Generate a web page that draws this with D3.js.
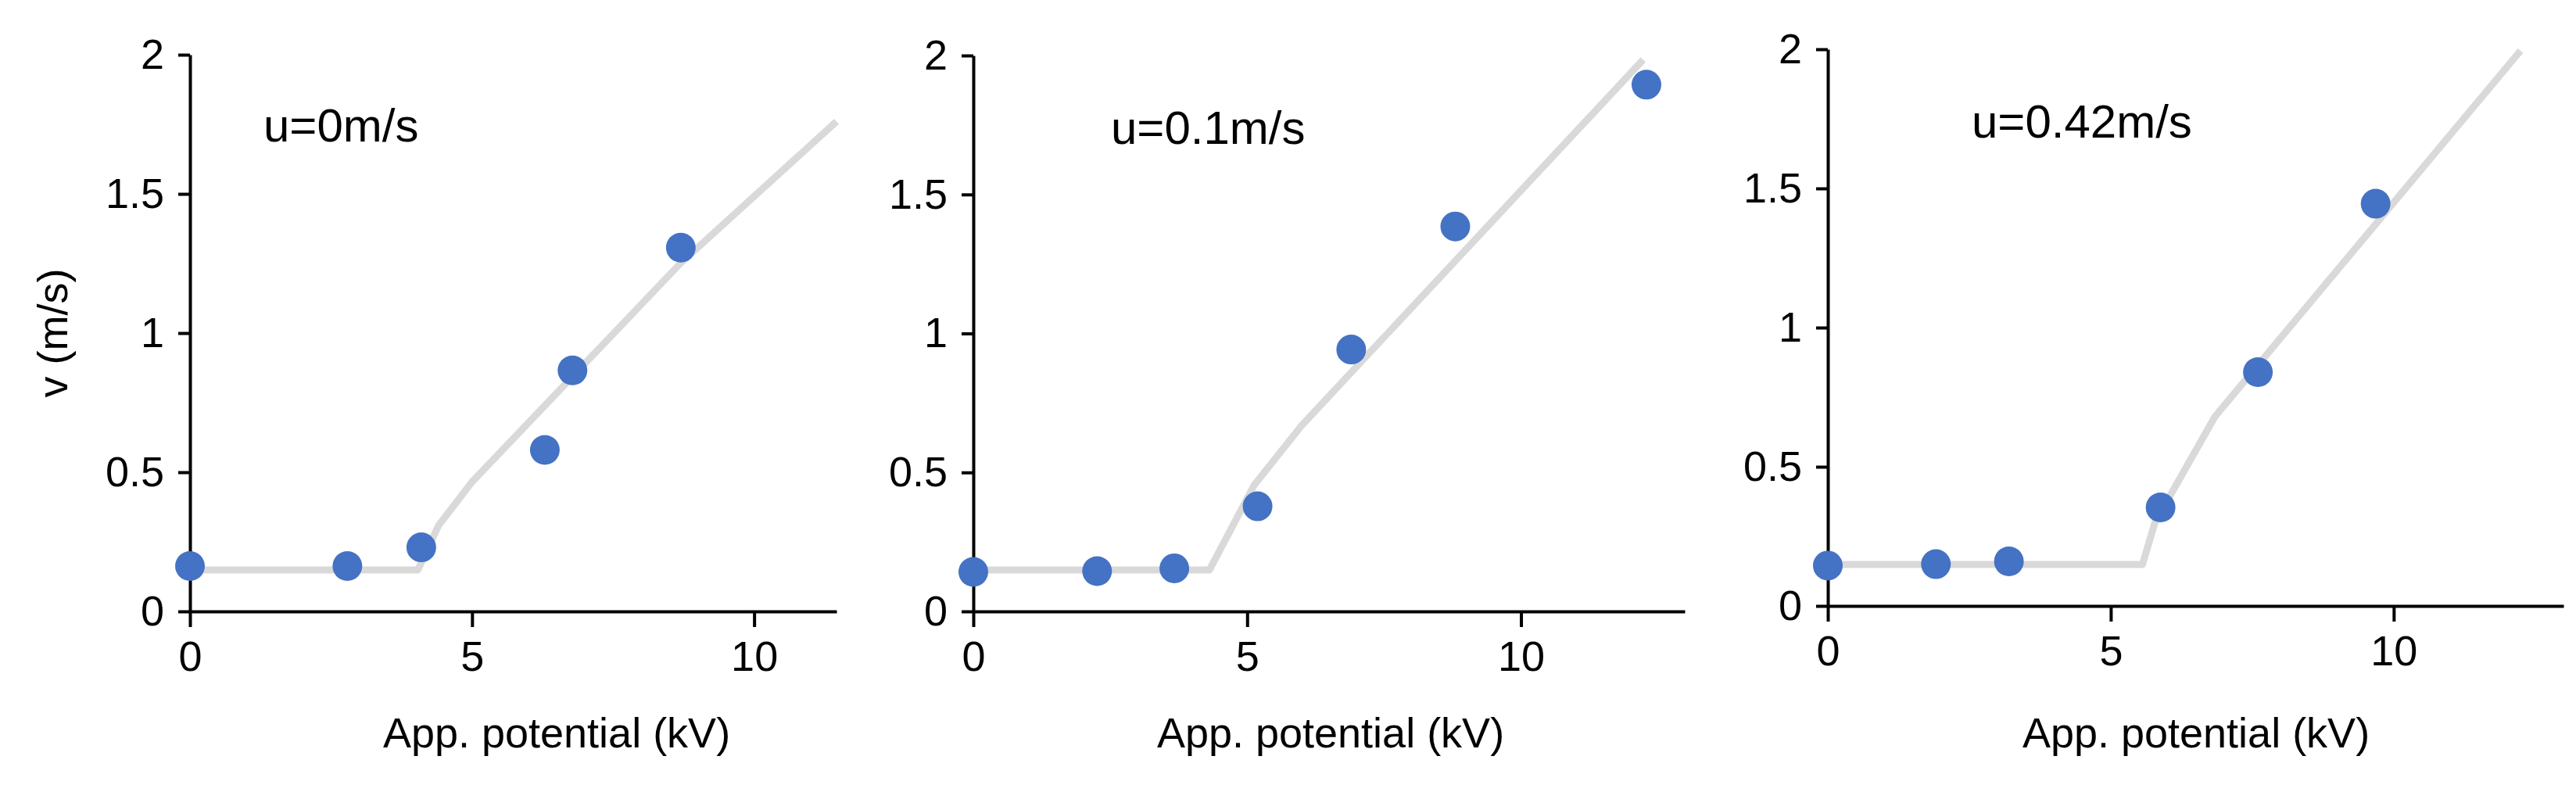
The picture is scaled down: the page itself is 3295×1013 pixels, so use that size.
<!DOCTYPE html>
<html>
<head>
<meta charset="utf-8">
<script src="https://cdn.jsdelivr.net/npm/d3@7"></script>
<style>
  body { margin: 0; background: #fff; }
  text { font-family: "Liberation Sans", Arial, sans-serif; fill: #000; }
</style>
</head>
<body>
<svg id="chart" width="3295" height="1013"></svg>
<script>
// measured points (kV, m/s)
var titles = ["u=0m/s", "u=0.1m/s", "u=0.42m/s"];
var pointsX = [
  [0, 2.79, 4.10, 6.29, 6.78, 8.70],
  [0, 2.26, 3.67, 5.19, 6.90, 8.80, 12.29],
  [0, 1.91, 3.20, 5.88, 7.60, 9.68]
];
var pointsY = [
  [0.163, 0.163, 0.23, 0.58, 0.866, 1.307],
  [0.142, 0.145, 0.155, 0.378, 0.942, 1.385, 1.895],
  [0.145, 0.15, 0.16, 0.354, 0.84, 1.445]
];
// grey trend lines
var fitX = [
  [0, 4.04, 4.41, 4.99, 8.69, 11.46],
  [0, 4.31, 5.13, 6.0, 12.23],
  [0, 5.56, 5.78, 6.84, 12.24]
];
var fitY = [
  [0.149, 0.149, 0.31, 0.463, 1.25, 1.76],
  [0.149, 0.149, 0.455, 0.67, 1.985],
  [0.149, 0.149, 0.30, 0.68, 1.995]
];
var xMax = [11.46, 12.99, 13.0];
var xTicks = [0, 5, 10];
var yTicks = [0, 0.5, 1, 1.5, 2];

// panel frames, in pixels
var panels = [
  {left: 243, right: 1070, top: 70, bottom: 782, tx: 337, ty: 181, lx: 712},
  {left: 1245, right: 2155, top: 71, bottom: 782, tx: 1421, ty: 184, lx: 1702},
  {left: 2338, right: 3279, top: 63, bottom: 775, tx: 2522, ty: 176, lx: 2809}
];

var svg = d3.select("#chart");

panels.forEach(function(p, i) {
  var x = d3.scaleLinear().domain([0, xMax[i]]).range([p.left, p.right]),
      y = d3.scaleLinear().domain([0, 2]).range([p.bottom, p.top]),
      g = svg.append("g");

  var line = d3.line()
    .x(function(d) { return x(d[0]); })
    .y(function(d) { return y(d[1]); });

  g.append("path")
    .datum(d3.zip(fitX[i], fitY[i]))
    .attr("d", line)
    .attr("fill", "none")
    .attr("stroke", "#d9d9d9")
    .attr("stroke-width", 9)
    .attr("stroke-linejoin", "round");

  var xAxis = g.append("g")
    .attr("transform", "translate(0," + p.bottom + ")")
    .call(d3.axisBottom(x).tickValues(xTicks).tickSize(20).tickPadding(18).tickSizeOuter(0));
  var yAxis = g.append("g")
    .attr("transform", "translate(" + p.left + ",0)")
    .call(d3.axisLeft(y).tickValues(yTicks).tickSize(15).tickPadding(18).tickSizeOuter(0)
      .tickFormat(function(d) { return d; }));

  [xAxis, yAxis].forEach(function(a) {
    a.select(".domain").attr("stroke", "#000").attr("stroke-width", 4);
    a.selectAll(".tick line").attr("stroke", "#000").attr("stroke-width", 4);
    a.selectAll(".tick text").attr("font-size", 54).attr("font-family", "Liberation Sans, Arial, sans-serif");
  });

  g.selectAll("circle")
    .data(d3.zip(pointsX[i], pointsY[i]))
    .join("circle")
    .attr("cx", function(d) { return x(d[0]); })
    .attr("cy", function(d) { return y(d[1]); })
    .attr("r", 19)
    .attr("fill", "#4472c4");

  g.append("text")
    .attr("x", p.tx).attr("y", p.ty)
    .attr("font-size", 60)
    .text(titles[i]);

  g.append("text")
    .attr("x", p.lx).attr("y", 956)
    .attr("text-anchor", "middle")
    .attr("font-size", 54)
    .text("App. potential (kV)");
});

svg.append("text")
  .attr("transform", "translate(86,426) rotate(-90)")
  .attr("text-anchor", "middle")
  .attr("font-size", 54)
  .text("v (m/s)");
</script>
</body>
</html>
